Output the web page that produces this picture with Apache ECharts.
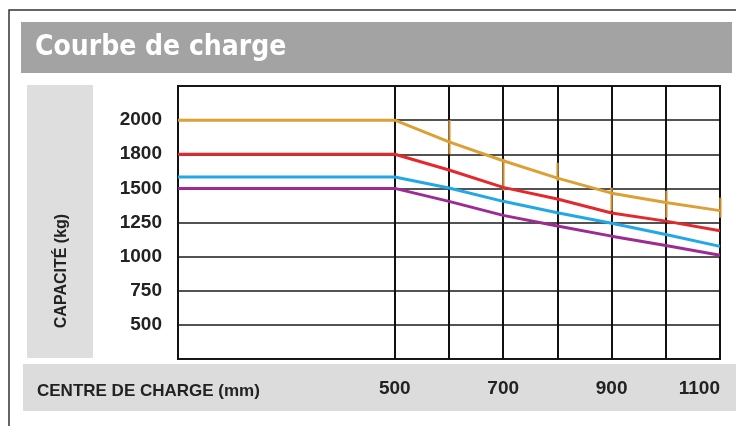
<!DOCTYPE html>
<html>
<head>
<meta charset="utf-8">
<script src="https://cdn.jsdelivr.net/npm/echarts@6/dist/echarts.min.js"></script>
<style>
html,body{margin:0;padding:0;background:#fff;}
#chart{width:736px;height:426px;}
</style>
</head>
<body>
<div id="chart"></div>
<script>
// ---- data ----
const titleText = 'Courbe de charge';
const yAxisTitle = 'CAPACITÉ (kg)';
const xAxisTitle = 'CENTRE DE CHARGE (mm)';
// capacity tick labels (equally spaced on the original chart)
const yTickValues = [500, 750, 1000, 1250, 1500, 1800, 2000];
// x tick labels shown
const xTickLabels = [500, 700, 900, 1100];
// vertical grid lines
const xGridValues = [500, 600, 700, 800, 900, 1000, 1100];
// load centre (mm); first value is the left edge of the plot
const centres = [100, 500, 600, 700, 800, 900, 1000, 1100];
const cap2000 = [2000, 2000, 1873, 1743, 1590, 1465, 1397, 1337];
const cap1800 = [1800, 1800, 1662, 1509, 1422, 1320, 1260, 1190];
const cap1600 = [1600, 1600, 1503, 1405, 1322, 1245, 1162, 1075];
const cap1500 = [1500, 1500, 1405, 1302, 1225, 1150, 1082, 1010];
// small vertical marks on the 2000 kg curve
const markCentres = [600, 700, 800, 900, 1000, 1100];
const markTop = [2000, 1760, 1725, 1506, 1483, 1432];
const markBottom = [1800, 1483, 1566, 1337, 1285, 1285];

// the chart's capacity scale: equally spaced ticks (piecewise linear)
function toAxis(v) {
  for (let i = 0; i < yTickValues.length - 1; i++) {
    const a = yTickValues[i], b = yTickValues[i + 1];
    if (v <= b || i === yTickValues.length - 2) {
      return i + 1 + (v - a) / (b - a);
    }
  }
}
function pts(arr) { return centres.map((c, i) => [c, toAxis(arr[i])]); }

const chart = echarts.init(document.getElementById('chart'), null, {renderer: 'canvas'});

const lineSeries = (name, arr, color) => ({
  name, type: 'line', data: pts(arr), symbol: 'none', smooth: false,
  lineStyle: {color, width: 3}, z: 5, silent: true
});

const orange = lineSeries('2000 kg', cap2000, '#dca035');
orange.markLine = {
  silent: true, symbol: 'none', label: {show: false},
  lineStyle: {color: '#e2a443', width: 2.5, type: 'solid', opacity: 0.85},
  data: markCentres.map((c, i) => [{coord: [c, toAxis(markTop[i])]}, {coord: [c, toAxis(markBottom[i])]}])
};

chart.setOption({
  animation: false,
  backgroundColor: '#ffffff',
  grid: {left: 178, right: 16, top: 86, bottom: 67, show: true, borderColor: '#111', borderWidth: 2, backgroundColor: 'transparent'},
  xAxis: {
    type: 'value', min: 100, max: 1100, interval: 100,
    axisLine: {show: false}, axisTick: {show: false}, splitLine: {show: false},
    axisLabel: {
      margin: 20, fontSize: 19, fontWeight: 'bold', color: '#222', fontFamily: 'Liberation Sans',
      alignMaxLabel: 'right',
      formatter: v => xTickLabels.includes(v) ? String(v) : ''
    }
  },
  yAxis: {
    type: 'value', min: 0, max: 8, interval: 1,
    axisLine: {show: false}, axisTick: {show: false},
    splitLine: {show: true, lineStyle: {color: '#1a1a1a', width: 1.5}},
    axisLabel: {
      margin: 16, fontSize: 19, fontWeight: 'bold', color: '#222', fontFamily: 'Liberation Sans',
      formatter: v => (v >= 1 && v <= yTickValues.length) ? String(yTickValues[v - 1]) : ''
    }
  },
  graphic: [
    {type: 'rect', z: -10, shape: {x: 9, y: 10, width: 760, height: 440}, style: {fill: null, stroke: '#333', lineWidth: 1.5}},
    {type: 'rect', z: -9, shape: {x: 21, y: 22, width: 711, height: 51}, style: {fill: '#a3a3a3'}},
    {type: 'text', z: -8, x: 35, y: 48, style: {text: titleText, fill: '#ffffff', font: 'bold 28px "Liberation Sans Narrow", "DejaVu Sans Condensed", sans-serif', verticalAlign: 'middle', textAlign: 'left'}},
    {type: 'rect', z: -9, shape: {x: 27, y: 85, width: 66, height: 273}, style: {fill: '#dedede'}},
    {type: 'text', z: -8, x: 62, y: 271, rotation: Math.PI / 2, style: {text: yAxisTitle, fill: '#222', font: 'bold 16px "Liberation Sans", sans-serif', verticalAlign: 'middle', textAlign: 'center'}},
    {type: 'rect', z: -9, shape: {x: 23, y: 364, width: 713, height: 47}, style: {fill: '#dcdcdc'}},
    {type: 'text', z: -8, x: 37, y: 391, style: {text: xAxisTitle, fill: '#222', font: 'bold 17px "Liberation Sans", sans-serif', verticalAlign: 'middle', textAlign: 'left'}}
  ],
  series: [
    {
      name: 'grille', type: 'line', data: [], z: 2, silent: true,
      markLine: {
        silent: true, symbol: 'none', label: {show: false},
        lineStyle: {color: '#111', width: 2, type: 'solid'},
        data: xGridValues.map(v => ({xAxis: v}))
      }
    },
    orange,
    lineSeries('1800 kg', cap1800, '#e4282c'),
    lineSeries('1600 kg', cap1600, '#22a8e4'),
    lineSeries('1500 kg', cap1500, '#9c2c94')
  ]
});
</script>
</body>
</html>
